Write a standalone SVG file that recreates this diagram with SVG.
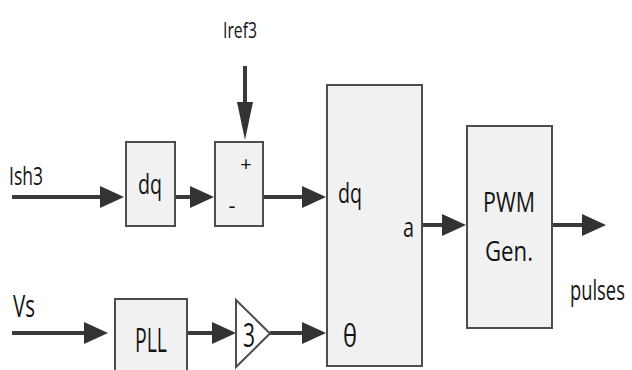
<svg xmlns="http://www.w3.org/2000/svg" width="632" height="370" viewBox="0 0 632 370">
<style>
.box{fill:#f1f1f1;stroke:#4d4d4d;stroke-width:2}
.wire{stroke:#3a3a3a;stroke-width:4;fill:none}
.t{font-family:"Open Sans","Noto Sans","DejaVu Sans",sans-serif;fill:#151515}
</style>
<defs>
<marker id="ah" markerUnits="userSpaceOnUse" markerWidth="24" markerHeight="22" viewBox="0 0 24 22" refX="12" refY="11" orient="auto">
<path d="M0,0 L24,11 L0,22 z" fill="#333"/>
</marker>
<marker id="av" markerUnits="userSpaceOnUse" markerWidth="38" markerHeight="16" viewBox="0 0 38 16" refX="24" refY="8" orient="auto">
<path d="M0,0 L38,8 L0,16 z" fill="#333"/>
</marker>
</defs>
<rect width="632" height="370" fill="#ffffff"/>
<g id="connectors">
<line class="wire" x1="12" y1="197" x2="112" y2="197" marker-end="url(#ah)"/>
<line class="wire" x1="175" y1="197" x2="202" y2="197" marker-end="url(#ah)"/>
<line class="wire" x1="245" y1="66" x2="245" y2="126" marker-end="url(#av)"/>
<line class="wire" x1="263" y1="197" x2="314" y2="197" marker-end="url(#ah)"/>
<line class="wire" x1="12" y1="333" x2="96" y2="333" marker-end="url(#ah)"/>
<line class="wire" x1="187" y1="333" x2="224" y2="333" marker-end="url(#ah)"/>
<line class="wire" x1="270" y1="333" x2="314" y2="333" marker-end="url(#ah)"/>
<line class="wire" x1="422" y1="225" x2="454" y2="225" marker-end="url(#ah)"/>
<line class="wire" x1="552" y1="225" x2="594" y2="225" marker-end="url(#ah)"/>
</g>
<g id="labels">
<text class="t" x="223" y="38" font-size="22" textLength="34" lengthAdjust="spacingAndGlyphs">Iref3</text>
<text class="t" x="9" y="185" font-size="25" textLength="34" lengthAdjust="spacingAndGlyphs">Ish3</text>
<text class="t" x="13" y="317" font-size="31" textLength="22" lengthAdjust="spacingAndGlyphs">Vs</text>
<text class="t" font-size="27" transform="translate(570,300) scale(0.68,1)">pulses</text>
</g>
<g id="dq1">
<rect class="box" x="126" y="142" width="49" height="84"/>
<text class="t" x="138" y="194" font-size="27" textLength="24" lengthAdjust="spacingAndGlyphs">dq</text>
</g>
<g id="sum">
<rect class="box" x="215" y="142" width="48" height="84"/>
<text class="t" x="246" y="171" font-size="20" text-anchor="middle">+</text>
<text class="t" x="232" y="213" font-size="22" text-anchor="middle">-</text>
</g>
<g id="transform">
<rect class="box" x="327" y="85" width="95" height="281"/>
<text class="t" x="338" y="203" font-size="27" textLength="24" lengthAdjust="spacingAndGlyphs">dq</text>
<text class="t" x="403" y="237" font-size="28" textLength="11" lengthAdjust="spacingAndGlyphs">a</text>
<text class="t" x="343" y="347" font-size="31" textLength="14" lengthAdjust="spacingAndGlyphs">θ</text>
</g>
<g id="pwm">
<rect class="box" x="467" y="126" width="85" height="202"/>
<text class="t" x="483" y="212" font-size="28" textLength="52" lengthAdjust="spacingAndGlyphs">PWM</text>
<text class="t" x="485" y="261" font-size="28" textLength="48" lengthAdjust="spacingAndGlyphs">Gen.</text>
</g>
<g id="pll">
<rect class="box" x="115" y="299" width="72" height="80"/>
<text class="t" x="135" y="352" font-size="32" textLength="32" lengthAdjust="spacingAndGlyphs">PLL</text>
</g>
<g id="gain">
<polygon class="box" points="236,300 270,333.5 236,367" style="fill:#fff"/>
<text class="t" x="243" y="347" font-size="32" textLength="12" lengthAdjust="spacingAndGlyphs">3</text>
</g>
</svg>
